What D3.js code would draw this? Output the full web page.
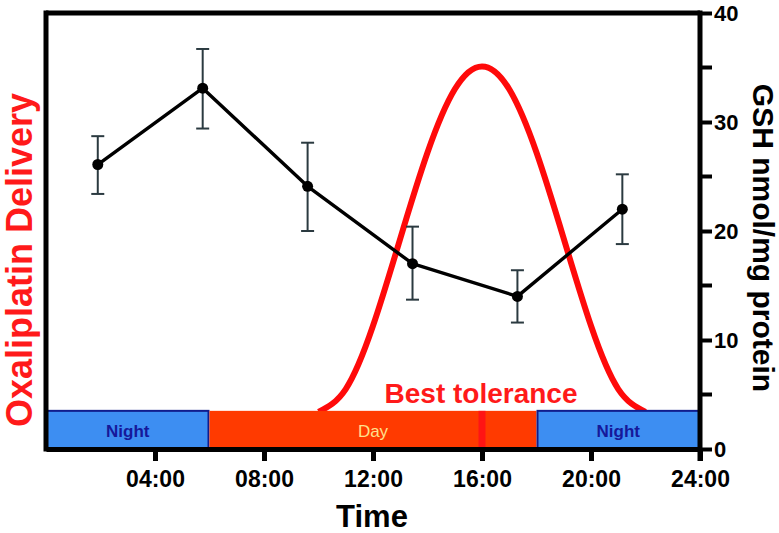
<!DOCTYPE html>
<html><head><meta charset="utf-8">
<script src="https://cdn.jsdelivr.net/npm/d3@7"></script>
<style>
html,body{margin:0;padding:0;background:#fff;}
svg{display:block;font-family:"Liberation Sans",Arial,Helvetica,sans-serif;}
</style></head>
<body>
<svg id="chart" width="779" height="533"></svg>
<script>
// GSH measurements (time in hours, mean, error-bar low/high)
const gshHours = [1.9, 5.75, 9.6, 13.45, 17.3, 21.15];
const gshMean  = [26.1, 33.1, 24.1, 17.0, 14.0, 22.0];
const gshLow   = [23.4, 29.4, 20.0, 13.7, 11.6, 18.8];
const gshHigh  = [28.7, 36.7, 28.1, 20.4, 16.4, 25.2];

// Oxaliplatin delivery profile (read in right-axis units)
const delivHours  = [10, 11, 12, 13, 14, 15, 16, 17, 18, 19, 20, 21, 22];
const delivValues = [3.4, 5.5, 11.3, 19.3, 27.2, 33.0, 35.1, 33.0, 27.2, 19.3, 11.3, 5.5, 3.4];

// Light/dark periods
const periodNames  = ["Night", "Day", "Night"];
const periodStart  = [0, 6, 18];
const periodEnd    = [6, 18, 24];

const xTicks = [4, 8, 12, 16, 20, 24];
const xTickLabels = ["04:00", "08:00", "12:00", "16:00", "20:00", "24:00"];
const yMajor = [0, 10, 20, 30, 40];
const yMinor = [5, 15, 25, 35];
const bestToleranceHour = 16;

const svg = d3.select("#chart");
const x = d3.scaleLinear().domain([0, 24]).range([46, 700]);
const y = d3.scaleLinear().domain([0, 40]).range([449, 13]);
const barTop = y(3.5);

const fontB = "bold";

// Red delivery curve
const line = d3.line().x((d, i) => x(delivHours[i])).y(d => y(d)).curve(d3.curveNatural);
svg.append("path").datum(delivValues).attr("d", line)
  .attr("fill", "none").attr("stroke", "#ff0a0a").attr("stroke-width", 6);

// Period bars
periodNames.forEach((name, i) => {
  const isDay = name === "Day";
  svg.append("rect")
    .attr("x", x(periodStart[i]) + (isDay ? 0 : 1)).attr("y", barTop)
    .attr("width", x(periodEnd[i]) - x(periodStart[i]) - (isDay ? 0 : 2))
    .attr("height", y(0) - barTop)
    .attr("fill", isDay ? "#ff3a00" : "#3d8ef2")
    .attr("stroke", isDay ? "none" : "#101c8c").attr("stroke-width", isDay ? 0 : 2);
});
// best tolerance stripe
svg.append("rect").attr("x", x(bestToleranceHour) - 3.5).attr("y", barTop)
  .attr("width", 7).attr("height", y(0) - barTop).attr("fill", "#ff1414");

periodNames.forEach((name, i) => {
  const isDay = name === "Day";
  svg.append("text")
    .attr("x", (x(periodStart[i]) + x(periodEnd[i])) / 2).attr("y", 437)
    .attr("text-anchor", "middle").attr("font-size", 17)
    .attr("font-weight", isDay ? "normal" : "bold")
    .attr("fill", isDay ? "#ffe08c" : "#16189a").text(name);
});

// Frame: top and left borders
svg.append("line").attr("x1", x(0)).attr("x2", x(24)).attr("y1", y(40)).attr("y2", y(40))
  .attr("stroke", "#000").attr("stroke-width", 5);
svg.append("line").attr("x1", x(0)).attr("x2", x(0)).attr("y1", y(40) - 2.5).attr("y2", y(0) + 2.5)
  .attr("stroke", "#000").attr("stroke-width", 5);

// Bottom x axis
const xAxis = d3.axisBottom(x).tickValues(xTicks).tickFormat((d, i) => xTickLabels[i])
  .tickSize(12).tickSizeOuter(0).tickPadding(4);
const gx = svg.append("g").attr("transform", `translate(0,${y(0)})`).call(xAxis);
gx.select(".domain").attr("stroke", "#000").attr("stroke-width", 5);
gx.selectAll(".tick line").attr("stroke", "#000").attr("stroke-width", 5);
gx.selectAll(".tick text").attr("font-size", 23).attr("font-weight", fontB).attr("fill", "#000")
  .attr("font-family", "Liberation Sans, Arial, sans-serif").attr("dy", "0.95em");

// Right y axis
const yAxis = d3.axisRight(y).tickValues(yMajor).tickSize(12).tickSizeOuter(0).tickPadding(2);
const gy = svg.append("g").attr("transform", `translate(${x(24)},0)`).call(yAxis);
gy.select(".domain").attr("stroke", "#000").attr("stroke-width", 5)
  .attr("d", `M0,${y(40) - 2.5}V${y(0) + 12}`);
gy.selectAll(".tick line").attr("stroke", "#000").attr("stroke-width", 4);
gy.selectAll(".tick text").attr("font-size", 22).attr("font-weight", fontB).attr("fill", "#000")
  .attr("font-family", "Liberation Sans, Arial, sans-serif");
const gyMinor = svg.append("g").attr("transform", `translate(${x(24)},0)`);
gyMinor.selectAll("line").data(yMinor).enter().append("line")
  .attr("x1", 0).attr("x2", 12).attr("y1", d => y(d)).attr("y2", d => y(d))
  .attr("stroke", "#000").attr("stroke-width", 4);

// Error bars
const ebColor = "#2b3a40";
const eb = svg.append("g");
gshHours.forEach((h, i) => {
  const cx = x(h);
  eb.append("line").attr("x1", cx).attr("x2", cx).attr("y1", y(gshLow[i])).attr("y2", y(gshHigh[i]))
    .attr("stroke", ebColor).attr("stroke-width", 2);
  [gshLow[i], gshHigh[i]].forEach(v => {
    eb.append("line").attr("x1", cx - 6.5).attr("x2", cx + 6.5).attr("y1", y(v)).attr("y2", y(v))
      .attr("stroke", ebColor).attr("stroke-width", 2);
  });
});

// GSH line and points
const gline = d3.line().x((d, i) => x(gshHours[i])).y(d => y(d));
svg.append("path").datum(gshMean).attr("d", gline).attr("fill", "none")
  .attr("stroke", "#000").attr("stroke-width", 3.4).attr("stroke-linejoin", "round");
svg.append("g").selectAll("circle").data(gshMean).enter().append("circle")
  .attr("cx", (d, i) => x(gshHours[i])).attr("cy", d => y(d)).attr("r", 5.5).attr("fill", "#000");

// Labels
svg.append("text").attr("x", x(bestToleranceHour) - 1).attr("y", 403).attr("text-anchor", "middle")
  .attr("font-size", 28).attr("font-weight", fontB).attr("fill", "#ff1a1a").text("Best tolerance");

svg.append("text").attr("x", 372).attr("y", 527).attr("text-anchor", "middle")
  .attr("font-size", 31).attr("font-weight", fontB).attr("fill", "#000").text("Time");

svg.append("text").attr("transform", "translate(32,260) rotate(-90)").attr("text-anchor", "middle")
  .attr("font-size", 36).attr("font-weight", fontB).attr("fill", "#ff1a1a").text("Oxaliplatin Delivery");

svg.append("text").attr("transform", "translate(753,238) rotate(90)").attr("text-anchor", "middle")
  .attr("font-size", 30).attr("font-weight", fontB).attr("fill", "#000").text("GSH nmol/mg protein");
</script>
</body></html>
